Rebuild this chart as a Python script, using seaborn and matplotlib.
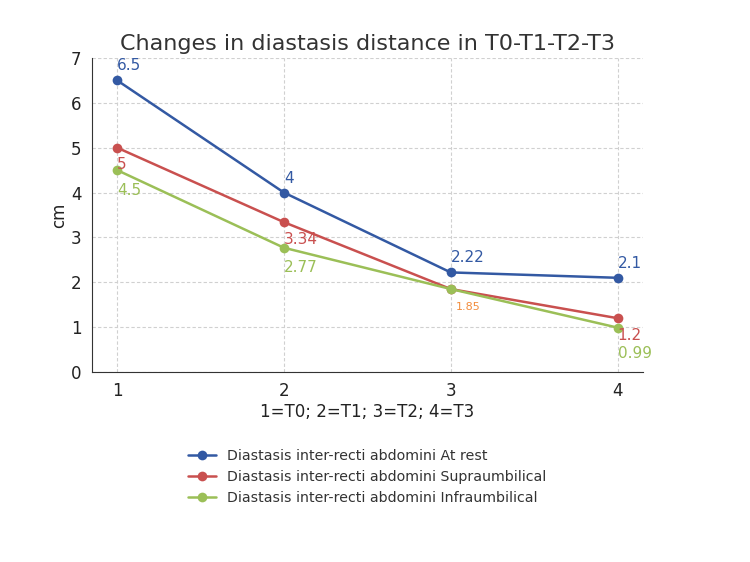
import pandas as pd
import matplotlib
matplotlib.use("Agg")
import matplotlib.pyplot as plt
import seaborn as sns

# datos
time_points = [1, 2, 3, 4]
at_rest = [6.5, 4, 2.22, 2.1]
supra = [5, 3.34, 1.85, 1.2]
infra = [4.5, 2.77, 1.85, 0.99]
series_names = ["Diastasis inter-recti abdomini At rest",
                "Diastasis inter-recti abdomini Supraumbilical",
                "Diastasis inter-recti abdomini Infraumbilical"]
colors = ["#3359a3", "#c9504f", "#9bbf57"]

df = pd.DataFrame({
    "x": time_points * 3,
    "y": at_rest + supra + infra,
    "serie": [series_names[0]] * 4 + [series_names[1]] * 4 + [series_names[2]] * 4,
})

sns.set_style("white")
plt.rcParams['font.family'] = ['DejaVu Sans']

fig = plt.figure(figsize=(7.5, 5.62), dpi=100)
ax = fig.add_axes([0.1227, 0.338, 0.734, 0.559])

sns.lineplot(data=df, x="x", y="y", hue="serie", palette=colors, marker="o",
             markersize=7, markeredgewidth=0, linewidth=1.8, ax=ax)

# etiquetas de valores
for xi, v in zip(time_points, at_rest):
    ax.annotate(f"{v:g}", (xi, v), xytext=(0, 5), textcoords="offset points",
                ha="left", va="bottom", color=colors[0], fontsize=11)
for xi, v in zip(time_points, supra):
    if xi == 3:
        continue
    ax.annotate(f"{v:g}", (xi, v), xytext=(0, -7), textcoords="offset points",
                ha="left", va="top", color=colors[1], fontsize=11)
for xi, v in zip(time_points, infra):
    if xi == 3:
        ax.annotate(f"{v:g}", (xi, v), xytext=(4, -9), textcoords="offset points",
                    ha="left", va="top", color="#f28c3c", fontsize=8)
        continue
    off = -13 if xi == 4 else -9
    ax.annotate(f"{v:g}", (xi, v), xytext=(0, off), textcoords="offset points",
                ha="left", va="top", color=colors[2], fontsize=11)

ax.set_xlim(0.85, 4.15)
ax.set_ylim(0, 7)
ax.set_xticks(time_points)
ax.set_yticks(range(0, 8))
ax.tick_params(labelsize=12, colors="#222222", length=4)
ax.grid(True, linestyle=(0, (3, 2)), color="#d0d0d0", linewidth=0.8)
for s in ["top", "right"]:
    ax.spines[s].set_visible(False)
for s in ["left", "bottom"]:
    ax.spines[s].set_color("#333333")

ax.set_title("Changes in diastasis distance in T0-T1-T2-T3", fontsize=16, color="#333333", pad=6)
ax.set_xlabel("1=T0; 2=T1; 3=T2; 4=T3", fontsize=12, color="#222222", labelpad=2)
ax.set_ylabel("cm", fontsize=12, color="#222222", labelpad=2)

leg = ax.legend(loc="upper center", bbox_to_anchor=(0.5, -0.205), frameon=False, fontsize=10.2,
                title=None, labelspacing=0.5)
for t in leg.get_texts():
    t.set_color("#333333")

plt.savefig("out.png", dpi=100)
